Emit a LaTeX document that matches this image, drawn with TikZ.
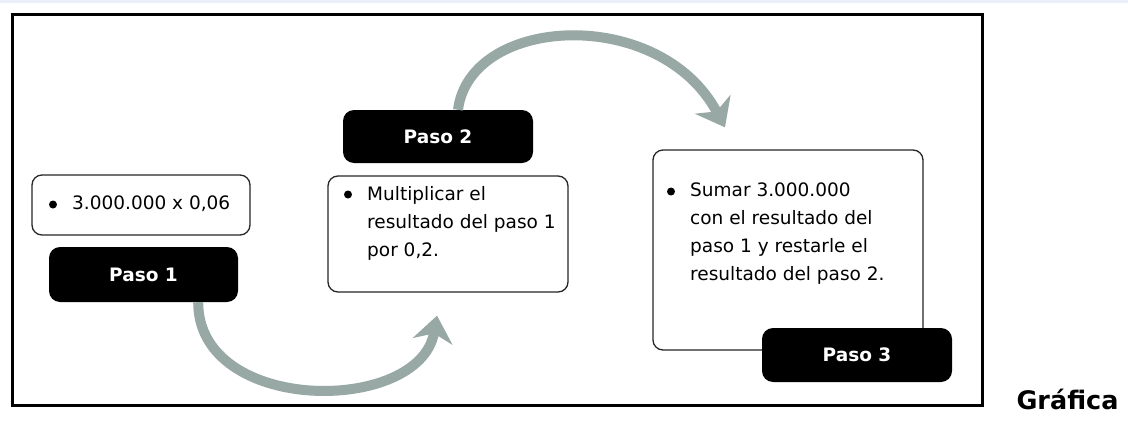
\documentclass[tikz,border=0pt]{standalone}
\usepackage{fontspec}
\setmainfont{DejaVu Sans}
\usetikzlibrary{arrows.meta,positioning}

\definecolor{flecha}{HTML}{97A8A5}
\definecolor{fondo}{HTML}{E9EEF8}

\tikzset{
  caja/.style={draw=black!85, line width=1.3pt, rounded corners=10pt, fill=white, inner sep=0pt},
  paso/.style={fill=black, rounded corners=11pt, text=white, inner sep=0pt,
    font=\bfseries\fontsize{18.5}{22}\selectfont},
  texto/.style={anchor=north west, inner sep=0pt, align=left,
    font=\fontsize{18.5}{28}\selectfont},
  giro/.style={draw=flecha, line width=10pt,
    -{Stealth[length=26pt,width=40pt,inset=8pt]}},
}

\begin{document}
\begin{tikzpicture}[x=1pt,y=-1pt]
\useasboundingbox (0,0) rectangle (1128,423);
\fill[fondo] (0,0) rectangle (1128,3);

% marco
\draw[line width=3pt] (12,14.5) rectangle (982,405);

% paso 1
\node[caja, minimum width=218pt, minimum height=60pt] (c1) at (141,205) {};
\node[paso, minimum width=189pt, minimum height=55pt] (p1) at (143.5,274.5) {Paso 1};
\node[texto] (t1) at (72,196) {3.000.000 x 0,06};

% paso 2
\node[paso, minimum width=190pt, minimum height=53pt] (p2) at (438,136.5) {Paso 2};
\node[caja, minimum width=240pt, minimum height=116pt] (c2) at (448,234) {};
\node[texto] (t2) at (367,186) {Multiplicar el\\resultado del paso 1\\por 0,2.};

% paso 3
\node[caja, minimum width=270pt, minimum height=200pt] (c3) at (788,250) {};
\node[paso, minimum width=190pt, minimum height=54pt] (p3) at (857,355) {Paso 3};
\node[texto] (t3) at (690,183) {Sumar 3.000.000\\con el resultado del\\paso 1 y restarle el\\resultado del paso 2.};

% vinetas
\foreach \t in {t1,t2,t3}
  \fill ([shift={(-19,8.5)}]\t.north west) circle (4pt);

% flechas
\coordinate (f1) at ([shift={(-11,23)}]c2.south);
\coordinate (f2) at ([shift={(-63,-22)}]c3.north);
\draw[giro] ([xshift=-40pt]p1.south east) .. controls (198,415) and (420,415) .. (f1);
\draw[giro] ([xshift=20pt]p2.north) .. controls (470,15) and (660,5) .. (f2);

\node[anchor=base west, font=\bfseries\fontsize{25.5}{30}\selectfont] (graf) at (1013,409) {Gráfica};
\end{tikzpicture}
\end{document}
